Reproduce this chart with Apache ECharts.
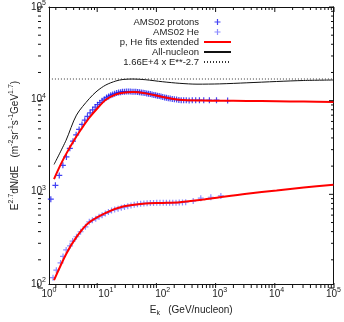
<!DOCTYPE html>
<html>
<head>
<meta charset="utf-8">
<script src="https://cdn.jsdelivr.net/npm/echarts@6/dist/echarts.min.js"></script>
<style>
html, body { margin: 0; padding: 0; background: #fff; }
#wrap { position: relative; width: 344px; height: 322px; }
#chart, #ticks { position: absolute; left: 0; top: 0; width: 344px; height: 322px; }
#ticks { z-index: 2; pointer-events: none; }
</style>
</head>
<body>
<div id="wrap">
    <div id="chart"></div>
    <div id="ticks"></div>
</div>
<script>
// data (Ek in GeV/nucleon, E^2.7 dN/dE)
const protonE = [1.08, 1.30, 1.52, 1.76, 2.03, 2.33, 2.65, 3.01, 3.39, 3.81, 4.27, 4.75, 5.3, 5.87, 6.5, 7.15, 7.85, 8.6, 9.4, 10.3, 11.2, 12.2, 13.2, 14.3, 15.5, 16.8, 18.2, 19.6, 21.2, 22.9, 24.8, 26.8, 28.9, 31.2, 33.6, 36.2, 39.0, 42.0, 45.2, 48.6, 52.3, 56.2, 60.4, 64.9, 69.8, 75.0, 80.6, 86.6, 93.1, 100, 108, 116, 125, 135, 147, 160, 175, 192, 211, 233, 259, 291, 330, 379, 441, 525, 660, 880, 1380];
const protonFlux = [830, 1170, 1500, 1930, 2380, 2950, 3520, 4130, 4720, 5350, 5950, 6550, 7150, 7700, 8250, 8750, 9200, 9650, 10050, 10450, 10750, 11050, 11300, 11500, 11700, 11850, 11950, 12050, 12100, 12150, 12150, 12150, 12100, 12100, 12050, 12000, 11950, 11850, 11800, 11700, 11600, 11500, 11400, 11300, 11150, 11050, 10950, 10850, 10700, 10600, 10500, 10400, 10300, 10200, 10100, 10000, 9950, 9850, 9800, 9750, 9750, 9700, 9750, 9750, 9800, 9750, 9800, 9800, 9700];

const heliumE = [1.18, 1.35, 1.6, 1.77, 2.01, 2.35, 2.61, 3.05, 3.6, 4.38, 5.12, 5.8, 6.65, 7.6, 8.6, 9.8, 11.1, 12.6, 14.3, 16.4, 18.7, 21.3, 24.3, 27.7, 31.5, 35.9, 40.9, 46.6, 53.1, 60.5, 68.9, 78.5, 89.4, 102, 116, 132, 150, 171, 195, 222, 253, 343, 466, 700, 1050];
const heliumFlux = [117, 141, 169, 199, 234, 259, 292, 325, 368, 416, 471, 490, 510, 535, 555, 580, 601, 625, 640, 653, 668, 681, 695, 710, 720, 730, 738, 745, 748, 752, 755, 757, 757, 757, 758, 758, 760, 760, 762, 765, 770, 790, 850, 870, 900];

const fitPE = [1.23, 1.5, 2, 3, 4, 5, 7, 10, 15, 20, 30, 50, 100, 200, 500, 1000, 3000, 10000, 30000, 100000];
const fitPFlux = [1370, 1800, 2550, 3900, 5100, 6200, 7900, 9900, 11300, 11800, 12000, 11600, 10600, 9900, 9700, 9650, 9600, 9550, 9450, 9350];

const fitHeE = [1.23, 2, 3, 5, 10, 20, 50, 100, 200, 500, 1000, 3000, 10000, 30000, 100000];
const fitHeFlux = [110, 210, 318, 460, 590, 690, 745, 755, 770, 820, 870, 950, 1030, 1110, 1190];

const allE = [1.23, 2, 3.05, 5.12, 7, 10, 15, 20, 30, 50, 100, 200, 400, 1000, 3000, 10000, 30000, 100000];
const allFlux = [1970, 3600, 6750, 10170, 12300, 14300, 15800, 16400, 16600, 16300, 15500, 14900, 14600, 14700, 15100, 15600, 16000, 16200];

const powE = [1, 100000];
const powFlux = [16600, 16600];

// axes
const X_MIN = 1, X_MAX = 100000;
const Y_MIN = 100, Y_MAX = 100000;
const xDecades = [1, 10, 100, 1000, 10000, 100000];
const yDecades = [100, 1000, 10000, 100000];
const minorSteps = [2, 3, 4, 5, 6, 7, 8, 9];

const GRID = { left: 38, right: 10, top: 7, bottom: 34, containLabel: false };

function pairs(xs, ys)
{
    return xs.map(function (x, i) { return [x, ys[i]]; });
}

const FONT = "Liberation Sans";
const INK = "#111";
const plus = "path://M2,0H3V2H5V3H3V5H2V3H0V2H2Z";

// ---- tick overlay: its own chart with the same grid and log scales ----

const tickChart = echarts.init(document.getElementById("ticks"), null, { renderer: "canvas" });

function bareAxis(min, max)
{
    return {
        type: "log", min: min, max: max, logBase: 10,
        axisLine: { show: false }, axisTick: { show: false },
        axisLabel: { show: false }, splitLine: { show: false }
    };
}

tickChart.setOption({
    animation: false,
    grid: GRID,
    xAxis: [bareAxis(X_MIN, X_MAX)],
    yAxis: [bareAxis(Y_MIN, Y_MAX)],
    series: [{
        type: "line", symbol: "none", silent: true,
        lineStyle: { opacity: 0 }, data: pairs(powE, powFlux)
    }]
});

function px(x, y)
{
    return tickChart.convertToPixel({ xAxisIndex: 0, yAxisIndex: 0 }, [x, y]);
}

function tick(x1, y1, x2, y2)
{
    return {
        type: "line",
        shape: { x1: x1, y1: y1, x2: x2, y2: y2 },
        style: { stroke: INK, lineWidth: 1 }
    };
}

function buildTicks()
{
    const lo = px(X_MIN, Y_MIN);
    const hi = px(X_MAX, Y_MAX);
    const left = lo[0], bottom = lo[1], right = hi[0], top = hi[1];
    const out = [];

    function addX(v, len)
    {
        if (v > X_MAX) return;
        const x = px(v, Y_MIN)[0];
        out.push(tick(x, bottom, x, bottom - len));
        out.push(tick(x, top, x, top + len));
    }
    function addY(v, len)
    {
        if (v > Y_MAX) return;
        const y = px(X_MIN, v)[1];
        out.push(tick(left, y, left + len, y));
        out.push(tick(right, y, right - len, y));
    }

    xDecades.forEach(function (d)
    {
        addX(d, 5);
        minorSteps.forEach(function (m) { addX(d * m, 3); });
    });
    yDecades.forEach(function (d)
    {
        addY(d, 5);
        minorSteps.forEach(function (m) { addY(d * m, 3); });
    });
    return out;
}

tickChart.setOption({ graphic: { elements: buildTicks() } });

// ---- main chart ----

function powLabel(v)
{
    return "{b|10}{s|" + Math.round(Math.log10(v)) + "}";
}

const labelRich = {
    b: { fontFamily: FONT, fontSize: 10, color: "#222" },
    s: { fontFamily: FONT, fontSize: 7, color: "#222", verticalAlign: "top", lineHeight: 14 }
};

function logAxis(pos, showLabels, min, max)
{
    return {
        type: "log",
        position: pos,
        min: min,
        max: max,
        logBase: 10,
        axisLine: { show: true, onZero: false, lineStyle: { color: INK, width: 1 } },
        axisTick: { show: false },
        splitLine: { show: false },
        axisLabel: { show: showLabels, formatter: powLabel, rich: labelRich, margin: 3 }
    };
}

const chart = echarts.init(document.getElementById("chart"), null, { renderer: "canvas" });

const xBottom = logAxis("bottom", true, X_MIN, X_MAX);
xBottom.name = "{b|E}{sub|k}{b|   (GeV/nucleon)}";
xBottom.nameLocation = "middle";
xBottom.nameGap = 19;
xBottom.nameTextStyle = {
    rich: {
        b: { fontFamily: FONT, fontSize: 10, color: "#222" },
        sub: { fontFamily: FONT, fontSize: 7, color: "#222", verticalAlign: "bottom", lineHeight: 14 }
    }
};

const yLeft = logAxis("left", true, Y_MIN, Y_MAX);
yLeft.name = "{b|E}{s|2.7}{b|dN/dE   (m}{s|-2}{b|sr}{s|-1}{b|s}{s|-1}{b|GeV}{s|1.7}{b|)}";
yLeft.nameLocation = "middle";
yLeft.nameGap = 22;
yLeft.nameRotate = 90;
yLeft.nameTextStyle = {
    rich: {
        b: { fontFamily: FONT, fontSize: 10, color: "#222" },
        s: { fontFamily: FONT, fontSize: 7, color: "#222", verticalAlign: "top", lineHeight: 14 }
    }
};

const hideSymbol = { opacity: 0 };

try
{
    chart.setOption({
        animation: false,
        grid: GRID,
        xAxis: [xBottom, logAxis("top", false, X_MIN, X_MAX)],
        yAxis: [yLeft, logAxis("right", false, Y_MIN, Y_MAX)],
        legend: {
            orient: "vertical",
            align: "right",
            right: 107,
            top: 12,
            itemWidth: 27,
            itemHeight: 6,
            itemGap: 0,
            textStyle: { fontFamily: FONT, fontSize: 9.5, color: "#222", lineHeight: 9.6 },
            data: [
                { name: "AMS02 protons" },
                { name: "AMS02 He" },
                { name: "p, He fits extended", itemStyle: hideSymbol },
                { name: "All-nucleon", itemStyle: hideSymbol },
                { name: "1.66E+4 x E**-2.7", itemStyle: hideSymbol }
            ]
        },
        series: [
            {
                name: "AMS02 protons", type: "scatter", symbol: plus, symbolSize: 6,
                itemStyle: { color: "#1414f0" }, data: pairs(protonE, protonFlux)
            },
            {
                name: "AMS02 He", type: "scatter", symbol: plus, symbolSize: 6,
                itemStyle: { color: "#7070ff" }, data: pairs(heliumE, heliumFlux)
            },
            {
                name: "p, He fits extended", type: "line", symbol: "none", smooth: 0.3,
                lineStyle: { color: "#ff0000", width: 2 }, itemStyle: { color: "#ff0000" },
                data: pairs(fitPE, fitPFlux)
            },
            {
                name: "p, He fits extended", type: "line", symbol: "none", smooth: 0.3,
                lineStyle: { color: "#ff0000", width: 2 }, itemStyle: { color: "#ff0000" },
                data: pairs(fitHeE, fitHeFlux)
            },
            {
                name: "All-nucleon", type: "line", symbol: "none", smooth: 0.3,
                lineStyle: { color: INK, width: 1 }, itemStyle: { color: INK },
                data: pairs(allE, allFlux)
            },
            {
                name: "1.66E+4 x E**-2.7", type: "line", symbol: "none",
                lineStyle: { color: "#333", width: 1, type: [1, 2] }, itemStyle: { color: "#333" },
                data: pairs(powE, powFlux)
            }
        ]
    });
}
catch (e)
{
    // the picture is already drawn at this point; keep the page running
}
</script>
</body>
</html>
